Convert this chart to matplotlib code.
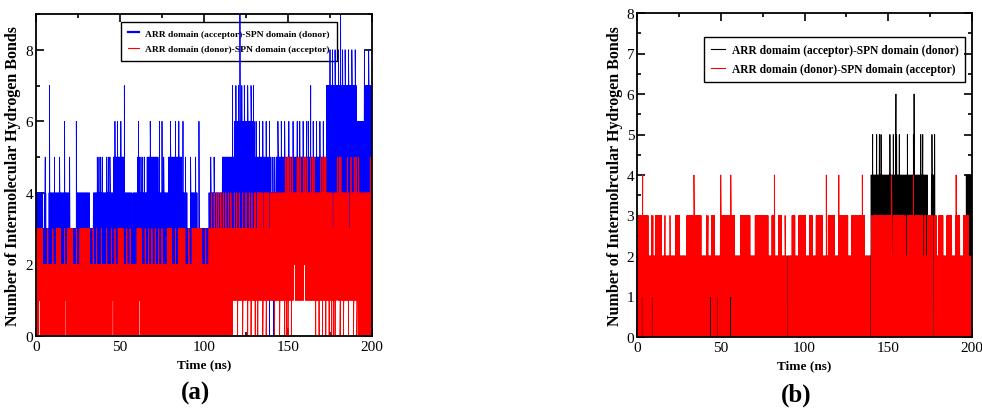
import numpy as np
import matplotlib
matplotlib.use("Agg")
import matplotlib.pyplot as plt
from matplotlib.lines import Line2D
from matplotlib.ticker import MultipleLocator

plt.rcParams["font.family"] = ["Liberation Serif", "DejaVu Serif"]

# Values.
# bands: (start time ns, low, high) - the count flickers between low and high until the next start
# peaks: (value, [times]) - single frames that reach that value
# notches: (time, low, high) - short stretches (~0.6 ns) where the flicker range differs
T_END = 200

BLUE_A_BANDS = [
    (0, 2, 4), (4, 2, 3), (5, 2, 4), (6.2, 2, 3), (7.6, 2, 4),
    (19.5, 2, 3), (24, 2, 4), (32, 2, 3), (34, 2, 4),
    (46, 2, 5), (52.5, 2, 4), (57.2, 2, 2), (57.8, 2, 4),
    (66, 2, 5), (73, 2, 4), (79, 2, 5), (87, 2, 4), (90, 2, 3), (92, 2, 4),
    (96, 2, 3), (103, 3, 4), (111, 3, 5), (118, 3, 6), (130, 3, 5),
    (140, 3, 4), (143, 3, 5), (173, 3, 7), (191, 3, 6), (196, 3, 7),
]
BLUE_A_PEAKS = [
    (5, [5.5, 11, 14, 20, 36.5, 37.5, 38.5, 39.5, 42, 43, 44, 60.5, 61.5, 62.5,
         63.5, 64.5, 76, 89, 92, 95, 104, 106, 141, 142]),
    (6, [17, 24, 47, 48.5, 50.5, 61, 68, 73.5, 75, 80, 83, 85, 87.5, 97, 131, 133,
         135, 137, 139, 144, 146, 148, 150.5, 153, 155.5, 157, 159, 161, 162, 165,
         167, 169, 171, 192, 194]),
    (7, [8, 52.6, 117, 119, 120.5, 122.5, 124, 126, 128, 129.5, 163.5]),
    (8, [175, 176.5, 178, 180, 182.5, 184, 186, 188, 190, 195.5, 198]),
    (9, [121.4, 181.3]),
    (0, [99.3, 103.5, 105, 139, 141.5]),
]
BLUE_A_NOTCHES = []

RED_A_BANDS = [
    (0, 0, 3), (4, 0, 2), (12, 0, 3), (15, 0, 2), (19, 0, 3), (22, 0, 2),
    (26, 0, 3), (32, 0, 2), (49, 0, 3), (52, 0, 2), (60, 0, 3), (63, 0, 2),
    (78, 0, 3), (81, 0, 2), (85, 0, 3), (89, 0, 2), (93, 0, 3), (99, 0, 2),
    (103, 0, 3), (117, 1, 3), (130, 1, 4), (192, 0, 4),
]
RED_A_PEAKS = [
    (3, [7, 10, 17, 24, 34, 36, 39, 42, 45, 47, 54, 56, 65, 67, 69, 71, 73, 75,
         83, 91, 101]),
    (4, [104.5, 106, 107.5, 108.5, 110, 111.5, 113, 114.5, 116, 118, 119.5, 121,
         123, 125, 127, 128.5]),
    (5, [148.6, 149.5, 150.5, 151.5, 152.5, 155.5, 156.5, 157.5, 159.5, 160.5,
         161.5, 163.5, 164.5, 165.5, 169.5, 170.5, 171.5, 172.5, 179.5, 180.5,
         181.5, 185.5, 187.5, 189.5, 190.5, 192, 199]),
    (0, [120, 123, 126, 128, 130.5, 132, 135, 137, 142, 145, 148, 149, 150, 152,
         166.5, 168.5, 170.5, 172.5, 174.5, 176, 177, 178, 181, 183, 186, 189, 191]),
]
RED_A_NOTCHES = [
    (2, 1, 3), (13, 1, 3), (17.5, 1, 2), (29, 1, 3), (35, 1, 2), (45.5, 1, 2),
    (59.3, 1, 2), (61.5, 1, 3), (64.5, 1, 2),
    (131, 1, 3), (135, 1, 3), (139, 1, 3), (143.5, 1, 3), (146, 1, 3),
    (176.5, 1, 3), (186.5, 1, 3), (193.5, 0, 3),
    (125.3, 2, 3), (153.5, 2, 4), (159.5, 2, 4), (179, 2, 4),
]

BLACK_B_BANDS = [
    (0, 0, 2), (139.7, 2, 4), (173.5, 2, 3), (175.5, 2, 4), (178, 0, 2),
    (196.5, 2, 4),
]
BLACK_B_PEAKS = [
    (5, [140.7, 143.1, 144.7, 145.7, 151, 153, 155, 156.6, 161.4, 165, 169.4,
         170.6, 176.1, 177.7]),
    (6, [154.6, 165.4]),
    (0, [168.9, 176.7]),
]
BLACK_B_NOTCHES = []

RED_B_BANDS = [
    (0, 0, 2), (0.8, 0, 3), (6.8, 0, 2), (10.7, 0, 3), (14.7, 0, 2),
    (22.7, 0, 3), (25.7, 0, 2), (29.6, 0, 3), (38.6, 0, 2), (44.6, 0, 3),
    (46.6, 0, 2), (49.5, 0, 3), (58.5, 0, 2), (61.5, 0, 3), (67.5, 0, 2),
    (70.4, 0, 3), (78.4, 0, 2), (80.4, 0, 3), (82.4, 0, 2), (84.4, 0, 3),
    (86.4, 0, 2), (92.3, 0, 3), (94.3, 0, 2), (96.3, 0, 3), (101, 0, 2),
    (103, 0, 3), (105, 0, 2), (107, 0, 3), (111, 0, 2), (114, 0, 3),
    (118, 0, 2), (121, 0, 3), (126, 0, 2), (128, 0, 3), (136, 0, 2),
    (140, 0, 3), (178.7, 0, 2), (180, 0, 3), (183, 0, 2), (185, 0, 3),
    (188, 0, 2), (190, 0, 3), (193, 0, 2), (195, 0, 3), (198, 0, 2),
]
RED_B_PEAKS = [
    (3, [8.8, 9.5, 16.7, 19.7, 41.6, 42.4, 88.4, 99.5]),
    (4, [3.4, 34, 50, 56, 82, 113, 120.5, 134.5, 152, 165, 190.5]),
]
RED_B_NOTCHES = [
    (2.8, 1, 3), (5.8, 1, 3), (8.8, 1, 2), (13.7, 1, 3), (30.6, 1, 3),
    (40.6, 1, 2), (43.6, 1, 2), (47.6, 1, 2), (55.5, 1, 3), (60.5, 1, 2),
    (73.4, 1, 3),
    (89.4, 0, 0), (112, 0, 0), (139.4, 0, 0), (168.8, 0, 0), (176.5, 0, 0),
    (140.3, 0, 2), (148, 0, 2), (152.3, 0, 2), (159.5, 0, 2), (160.5, 0, 2),
    (165.6, 0, 2), (171, 0, 2), (172.5, 0, 2), (177.5, 0, 2),
]

LEGEND_A = ["ARR domain (acceptor)-SPN domain (donor)",
            "ARR domain (donor)-SPN domain (acceptor)"]
LEGEND_B = ["ARR domaim (acceptor)-SPN domain (donor)",
            "ARR domain (donor)-SPN domain (acceptor)"]

STEP = 0.2
NOTCH_WIDTH = 0.6


def build_trace(bands, peaks, notches):
    t = np.arange(0, T_END + STEP / 2, STEP)
    starts = np.array([b[0] for b in bands])
    idx = np.searchsorted(starts, t, side="right") - 1
    lo = np.array([bands[i][1] for i in idx], dtype=float)
    hi = np.array([bands[i][2] for i in idx], dtype=float)
    for t0, l, h in notches:
        m = (t >= t0) & (t < t0 + NOTCH_WIDTH)
        lo[m] = l
        hi[m] = h
    y = np.where(np.arange(t.size) % 2 == 0, lo, hi)
    pt = [tp for v, ts in peaks for tp in ts]
    pv = [v for v, ts in peaks for tp in ts]
    tt = np.concatenate([t, np.array(pt, dtype=float)])
    yy = np.concatenate([y, np.array(pv, dtype=float)])
    order = np.argsort(tt, kind="stable")
    return tt[order], yy[order]


def style_axes(ax, ymax, ymajor, yminor):
    ax.set_xlim(0, T_END)
    ax.set_ylim(0, ymax)
    ax.xaxis.set_major_locator(MultipleLocator(50))
    ax.xaxis.set_minor_locator(MultipleLocator(25))
    ax.yaxis.set_major_locator(MultipleLocator(ymajor))
    ax.yaxis.set_minor_locator(MultipleLocator(yminor))
    ax.tick_params(which="both", direction="in", top=True, right=True,
                   width=1.2, labelsize=11)
    ax.tick_params(which="major", length=6)
    ax.tick_params(which="minor", length=3)
    ax.tick_params(axis="x", pad=3)
    ax.tick_params(axis="y", pad=2)
    for s in ax.spines.values():
        s.set_linewidth(1.3)
    ax.set_xlabel("Time (ns)", fontsize=9.5, weight="bold")
    ax.xaxis.set_label_coords(0.5, -0.07)


def add_legend(ax, colors, widths, labels, anchor, size, spacing, pad):
    handles = [Line2D([], [], color=c, lw=w) for c, w in zip(colors, widths)]
    leg = ax.legend(handles, labels, loc="upper left", bbox_to_anchor=anchor,
                    borderaxespad=0, prop={"weight": "bold", "size": size},
                    handlelength=1.2, handletextpad=0.6, fancybox=False,
                    edgecolor="black", framealpha=1, borderpad=pad,
                    labelspacing=spacing)
    leg.get_frame().set_linewidth(1.0)
    leg.set_zorder(1)


fig = plt.figure(figsize=(9.82, 4.10), dpi=100)

ax_a = fig.add_axes([36 / 982, 1 - 337 / 410, 336 / 982, 322 / 410])
t, y = build_trace(BLUE_A_BANDS, BLUE_A_PEAKS, BLUE_A_NOTCHES)
ax_a.plot(t, y, color="#0000ff", lw=0.6, zorder=2)
t, y = build_trace(RED_A_BANDS, RED_A_PEAKS, RED_A_NOTCHES)
ax_a.plot(t, y, color="#ff0000", lw=0.6, zorder=2)
style_axes(ax_a, 9, 2, 1)
ax_a.set_ylabel("Number of Intermolecular Hydrogen Bonds", fontsize=11.5,
                weight="bold")
ax_a.yaxis.set_label_coords(-0.045, 0.5)
add_legend(ax_a, ["#0000ff", "#ff0000"], [1.6, 0.8], LEGEND_A,
           (0.253, 0.975), 6.8, 0.75, 0.75)

ax_b = fig.add_axes([637 / 982, 1 - 338 / 410, 335 / 982, 324 / 410])
t, y = build_trace(BLACK_B_BANDS, BLACK_B_PEAKS, BLACK_B_NOTCHES)
ax_b.plot(t, y, color="black", lw=0.6, zorder=2)
t, y = build_trace(RED_B_BANDS, RED_B_PEAKS, RED_B_NOTCHES)
ax_b.plot(t, y, color="#ff0000", lw=0.6, zorder=2)
style_axes(ax_b, 8, 1, 0.5)
ax_b.set_ylabel("Number of Intermolrcular Hydrogen Bonds", fontsize=11.5,
                weight="bold")
ax_b.yaxis.set_label_coords(-0.042, 0.5)
add_legend(ax_b, ["black", "#ff0000"], [0.8, 0.8], LEGEND_B,
           (0.2, 0.926), 8.3, 0.65, 0.6)

fig.text(195 / 982, 1 - 393 / 410, "(a)", ha="center", va="center",
         fontsize=18, weight="bold")
fig.text(796 / 982, 1 - 395 / 410, "(b)", ha="center", va="center",
         fontsize=18, weight="bold")

fig.savefig("out.png", dpi=100)
